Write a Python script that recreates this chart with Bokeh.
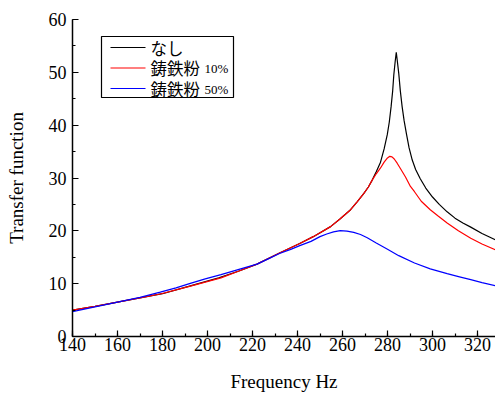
from bokeh.plotting import figure
from bokeh.models import (Range1d, SingleIntervalTicker, Label, BoxAnnotation)
from bokeh.embed import file_html
from bokeh.resources import INLINE

# ---- data ----
freq_none = [140, 150, 160, 170, 180, 190, 205, 214, 222, 232, 241, 247,
             254.7, 259, 263.6, 266.5, 269.5, 271.5, 273.2, 275, 276.9, 278.5,
             279.9, 280.8, 281.6, 282.3, 282.8, 283.4, 283.9, 284.4, 285,
             285.7, 286.5, 287.4, 288.4, 289.6, 291, 292.5, 294.5, 297, 300,
             303, 306.5, 310, 313.5, 317, 322, 328]
tf_none = [5.0, 5.7, 6.5, 7.3, 8.1, 9.3, 11.1, 12.4, 13.7, 15.8, 17.6, 18.9,
           20.8, 22.3, 24.0, 25.5, 27.1, 28.3, 29.6, 31.2, 33.0, 35.5,
           38.2, 40.6, 43.5, 46.5, 49.5, 52.0, 53.8, 52.0, 49.8,
           46.5, 43.5, 40.8, 38.4, 35.7, 33.4, 31.6, 29.9, 28.1, 26.4,
           25.0, 23.6, 22.4, 21.5, 20.7, 19.5, 18.3]

freq_10 = [140, 150, 160, 170, 179, 192, 206, 214, 222, 232, 241, 247, 254.7,
           259, 263.6, 266.5, 269.5, 271.5, 273.2, 275, 276.9, 278.5, 280,
           281, 282, 283, 284.3, 286, 288, 290.2, 292, 295, 299, 302.5, 306.5,
           311.5, 317, 322, 328]
tf_10 = [5.0, 5.7, 6.5, 7.3, 8.05, 9.5, 11.1, 12.4, 13.7, 15.8, 17.6, 18.9,
         20.8, 22.3, 24.0, 25.5, 27.1, 28.3, 29.6, 30.8, 31.9, 33.0, 33.8,
         34.1, 34.0, 33.6, 32.8, 31.6, 30.2, 28.4, 27.4, 25.6, 24.0, 22.8,
         21.5, 20.0, 18.6, 17.5, 16.4]

freq_50 = [140, 150, 160, 170, 179, 186, 192, 199, 206, 214, 222, 227, 232,
           237, 241, 246, 250, 253, 256, 259, 262, 265, 268, 271, 275, 280,
           285, 292, 299, 306.5, 312, 317, 322, 328]
tf_50 = [4.7, 5.6, 6.5, 7.4, 8.4, 9.2, 10.0, 10.9, 11.7, 12.7, 13.7, 14.7,
         15.7, 16.5, 17.2, 18.0, 18.9, 19.4, 19.8, 20.05, 19.95, 19.7, 19.3,
         18.7, 17.7, 16.5, 15.3, 13.9, 12.8, 11.9, 11.3, 10.75, 10.2, 9.6]

labels = ["なし", "鋳鉄粉", "鋳鉄粉"]
label_suffix = ["", "10%", "50%"]
colors = ["#000000", "#ff0000", "#0000ff"]

SERIF = "Liberation Serif"
CJK = "Noto Sans CJK JP"

p = figure(width=495, height=394, output_backend="svg", toolbar_location=None,
           x_range=Range1d(140, 328), y_range=Range1d(0, 60))
p.min_border_left = 72
p.min_border_right = 0
p.min_border_top = 19
p.min_border_bottom = 57
p.outline_line_color = None
p.grid.visible = False

p.line(freq_none, tf_none, line_color=colors[0], line_width=1.2)
p.line(freq_10, tf_10, line_color=colors[1], line_width=1.2)
p.line(freq_50, tf_50, line_color=colors[2], line_width=1.2)

p.xaxis.ticker = SingleIntervalTicker(interval=20, num_minor_ticks=2)
p.yaxis.ticker = SingleIntervalTicker(interval=10, num_minor_ticks=2)
for ax in (p.xaxis, p.yaxis):
    ax.axis_line_width = 1.5
    ax.axis_line_color = "black"
    ax.major_tick_in = 6
    ax.major_tick_out = 0
    ax.minor_tick_in = 3
    ax.minor_tick_out = 0
    ax.major_tick_line_color = "black"
    ax.minor_tick_line_color = "black"
    ax.major_tick_line_width = 1.2
    ax.minor_tick_line_width = 1.2
    ax.major_label_text_font = SERIF
    ax.major_label_text_font_size = "18px"
    ax.major_label_text_color = "black"
    ax.axis_label_text_font = SERIF
    ax.axis_label_text_font_size = "19px"
    ax.axis_label_text_font_style = "normal"
    ax.axis_label_text_color = "black"

p.xaxis.axis_label = "Frequency Hz"
p.yaxis.axis_label = "Transfer function"
p.xaxis.major_label_standoff = 1
p.yaxis.major_label_standoff = 6
p.xaxis.axis_label_standoff = 17
p.yaxis.axis_label_standoff = 19

# ---- legend drawn from annotations (frame-relative screen units) ----
p.add_layout(BoxAnnotation(left=29, right=161, bottom=239, top=300,
                           left_units="screen", right_units="screen",
                           bottom_units="screen", top_units="screen",
                           fill_alpha=0, line_color="black", line_alpha=1.0,
                           line_width=1.2))
row_y = [289, 268.5, 248]
for i in range(3):
    p.add_layout(BoxAnnotation(left=38, right=73,
                               bottom=row_y[i] - 0.6, top=row_y[i] + 0.6,
                               left_units="screen", right_units="screen",
                               bottom_units="screen", top_units="screen",
                               fill_color=colors[i], fill_alpha=1.0,
                               line_alpha=0))
    p.add_layout(Label(x=78, y=row_y[i], x_units="screen", y_units="screen",
                       text=labels[i], text_font=CJK, text_font_size="16.5px",
                       text_baseline="middle", text_color="black"))
    if label_suffix[i]:
        p.add_layout(Label(x=132, y=row_y[i] - 0.5, x_units="screen",
                           y_units="screen", text=label_suffix[i],
                           text_font=SERIF, text_font_size="13px",
                           text_baseline="middle", text_color="black"))

open("out.html", "w").write(file_html(p, INLINE))
